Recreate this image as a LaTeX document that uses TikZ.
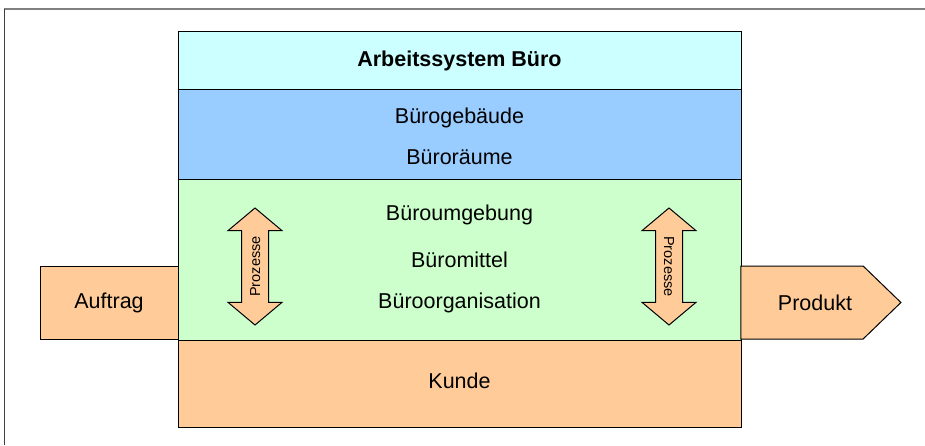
\documentclass[tikz,border=0pt]{standalone}
\usepackage{fontspec}
\setmainfont{Liberation Sans}
\definecolor{TitleCyan}{RGB}{204,255,255}
\definecolor{RoomBlue}{RGB}{153,204,255}
\definecolor{EnvGreen}{RGB}{204,255,204}
\definecolor{FlowOrange}{RGB}{255,204,153}
\definecolor{FrameGray}{RGB}{128,128,128}
\usetikzlibrary{positioning, shapes.arrows, shapes.symbols}

\tikzset{
  layer/.style={draw, line width=1pt, minimum width=563pt, inner sep=0pt},
  label/.style={font=\fontsize{21.5}{24}\selectfont, inner sep=0pt},
  prozess/.style={draw, line width=1pt, fill=FlowOrange, shape=double arrow,
    minimum height=117pt, minimum width=53pt, double arrow head extend=13.5pt,
    double arrow tip angle=100, text height=10pt, text depth=0pt, inner ysep=8pt,
    inner xsep=0pt, font=\fontsize{14.5}{16}\selectfont}
}

\begin{document}
\begin{tikzpicture}[x=1pt, y=1pt]
          \useasboundingbox (0,0) rectangle (925,445);
          \draw[FrameGray, line width=2pt] (4,436) -- (925,436);
          \draw[black!75, line width=0.8pt] (4,0) -- (4,436);
          % schichten des arbeitssystems
          \node[layer, fill=TitleCyan, minimum height=58pt] (titel) at (459.5,384) {};
          \node[layer, fill=RoomBlue, minimum height=90pt] (gebaeude) at (459.5,310) {};
          \node[layer, fill=EnvGreen, minimum height=160pt] (umgebung) at (459.5,185) {};
          \node[layer, fill=FlowOrange, minimum height=87pt] (kunde) at (459.5,61.5) {};
          % ein- und ausgang
          \node[draw, line width=1pt, fill=FlowOrange, minimum width=138pt, minimum height=73pt, inner sep=0pt] (auftrag) at (109,142.5) {};
          \node[draw, line width=1pt, fill=FlowOrange, shape=signal, signal to=east, signal from=nowhere,
                signal pointer angle=88, minimum width=160pt, minimum height=73pt, inner sep=0pt] (produkt) at (802,142.5) {};
          \node[prozess, rotate=90] (prozessL) at (255,178.5) {Prozesse};
          \node[prozess, rotate=-90] (prozessR) at (669,178.5) {Prozesse};
          % beschriftung
          \node[label, font=\fontsize{21.5}{24}\selectfont\bfseries] (titeltext) at (titel) {Arbeitssystem Büro};
          \node[label] (gebaeudetext) at (459.5,327) {Bürogebäude};
          \node[label] (raeumetext) at (459.5,288) {Büroräume};
          \node[label] (umgebungtext) at (459.5,230) {Büroumgebung};
          \node[label] (mitteltext) at (459.5,185) {Büromittel};
          \node[label] (orgtext) at (459.5,142) {Büroorganisation};
          \node[label] (kundetext) at (459.5,64) {Kunde};
          \node[label] (auftragtext) at (auftrag) {Auftrag};
          \node[label] (produkttext) at (815,142) {Produkt};
        \end{tikzpicture}
\end{document}
